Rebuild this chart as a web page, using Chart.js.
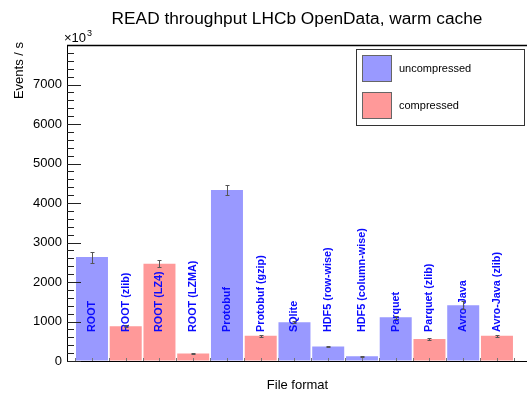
<!DOCTYPE html>
<html><head><meta charset="utf-8">
<script src="https://cdn.jsdelivr.net/npm/chart.js@4/dist/chart.umd.min.js"></script>
<style>html,body{margin:0;padding:0;background:#fff;overflow:hidden}
#wrap{position:relative;width:527px;height:396px}</style>
</head><body><div id="wrap"><canvas id="c" width="527" height="396"></canvas></div>
<script>
// ---- data (values in units of 10^3 events / s) ----
const categories = ["ROOT","ROOT (zlib)","ROOT (LZ4)","ROOT (LZMA)","Protobuf","Protobuf (gzip)","SQlite","HDF5 (row-wise)","HDF5 (column-wise)","Parquet","Parquet (zlib)","Avro-Java","Avro-Java (zlib)"];
const compressed = [false,true,true,true,false,true,false,false,false,false,true,false,true];
const throughput = [2630, 880, 2460, 190, 4330, 640, 980, 370, 120, 1110, 560, 1410, 640];
const errors     = [140, 20, 90, 15, 115, 20, 25, 15, 10, 40, 20, 100, 20];
const yTicks = [0,1000,2000,3000,4000,5000,6000,7000];
const seriesNames = ["uncompressed","compressed"];
const titleText = "READ throughput LHCb OpenData, warm cache";
const yTitle = "Events / s";
const xTitle = "File format";

const BLUE = "#9999ff", RED = "#ff9999";
const FONT = '"Liberation Sans", Arial, Helvetica, sans-serif';

function seriesData(flag){
  const out = [];
  categories.forEach((c,i)=>{ if(compressed[i]===flag) out.push({x:i, y:throughput[i]}); });
  return out;
}

const deco = {
  id:'deco',
  afterDatasetsDraw(chart){
    const {ctx, chartArea:a, scales:{x,y}} = chart;
    ctx.save();
    // x axis small ticks
    ctx.strokeStyle = '#777'; ctx.lineWidth = 1;
    ctx.beginPath();
    for(let i=0;i<categories.length;i++){
      for(const d of [-0.5,0]){
        const px = Math.round(x.getPixelForValue(i+d))+0.5;
        ctx.moveTo(px,a.bottom); ctx.lineTo(px,a.bottom-3);
      }
    }
    const pe = Math.round(x.getPixelForValue(categories.length-0.5))+0.5;
    ctx.moveTo(pe,a.bottom); ctx.lineTo(pe,a.bottom-3);
    ctx.stroke();
    // y axis inward ticks
    ctx.strokeStyle = '#222';
    ctx.beginPath();
    for(let v=0; v<=8000; v+=200){
      const py = Math.round(y.getPixelForValue(v))+0.5;
      const len = (v%1000===0)?14:7;
      ctx.moveTo(a.left,py); ctx.lineTo(a.left+len,py);
    }
    ctx.stroke();
    // top frame
    ctx.strokeStyle='#000'; ctx.lineWidth=1.5;
    ctx.beginPath(); ctx.moveTo(a.left,a.top+0.5); ctx.lineTo(a.right,a.top+0.5); ctx.stroke();
    // bar labels
    ctx.fillStyle = '#0a0aff';
    ctx.font = 'bold 10.8px ' + FONT;
    categories.forEach((c,i)=>{
      const px = x.getPixelForValue(i);
      ctx.save(); ctx.translate(px, a.bottom-29); ctx.rotate(-Math.PI/2);
      ctx.textAlign='left'; ctx.textBaseline='middle'; ctx.fillText(c,0,0); ctx.restore();
    });
    // error bars
    ctx.strokeStyle = '#555'; ctx.lineWidth = 1;
    throughput.forEach((v,i)=>{
      const px = Math.round(x.getPixelForValue(i))+0.5;
      const y1 = Math.round(y.getPixelForValue(v+errors[i]))+0.5;
      const y2 = Math.round(y.getPixelForValue(v-errors[i]))+0.5;
      ctx.beginPath();
      ctx.moveTo(px,y1); ctx.lineTo(px,y2);
      ctx.moveTo(px-2,y1); ctx.lineTo(px+2,y1);
      ctx.moveTo(px-2,y2); ctx.lineTo(px+2,y2);
      ctx.stroke();
    });
    // legend
    ctx.fillStyle='#fff'; ctx.fillRect(356.5,49.5,168,76);
    ctx.strokeStyle='#333'; ctx.lineWidth=1; ctx.strokeRect(356.5,49.5,168,76);
    const cols=[BLUE,RED];
    seriesNames.forEach((n,k)=>{
      const top = 55.5 + k*37;
      ctx.fillStyle=cols[k]; ctx.fillRect(362.5,top,29,26);
      ctx.strokeStyle='#666'; ctx.strokeRect(362.5,top,29,26);
      ctx.fillStyle='#000'; ctx.font='11px '+FONT; ctx.textAlign='left'; ctx.textBaseline='middle';
      ctx.fillText(n,399,top+13);
    });
    // titles
    ctx.fillStyle='#000';
    ctx.font='17.3px '+FONT; ctx.textAlign='center'; ctx.textBaseline='alphabetic';
    ctx.fillText(titleText,297,24);
    ctx.font='13px '+FONT; ctx.textAlign='left';
    ctx.fillText('\u00d710',64,42);
    ctx.font='9px '+FONT; ctx.fillText('3',87,36);
    ctx.font='13px '+FONT; ctx.textAlign='center';
    ctx.fillText(xTitle,297.5,389);
    ctx.save(); ctx.translate(23,42); ctx.rotate(-Math.PI/2);
    ctx.textAlign='right'; ctx.fillText(yTitle,0,0); ctx.restore();
    ctx.restore();
  }
};

new Chart(document.getElementById('c'),{
  type:'bar',
  data:{datasets:[
    {label:seriesNames[0], data:seriesData(false), backgroundColor:BLUE, borderWidth:0, grouped:false, barPercentage:0.948, categoryPercentage:1},
    {label:seriesNames[1], data:seriesData(true), backgroundColor:RED, borderWidth:0, grouped:false, barPercentage:0.948, categoryPercentage:1}
  ]},
  options:{
    responsive:false, animation:false, events:[],
    layout:{padding:{top:45,left:0,right:0,bottom:0}},
    plugins:{legend:{display:false},title:{display:false},tooltip:{enabled:false}},
    scales:{
      x:{type:'linear', min:-0.74, max:12.89, offset:false,
         grid:{display:false, drawTicks:false}, border:{display:true,color:'#000',width:1},
         ticks:{display:false}, afterFit(s){ s.height = 35; }},
      y:{min:0, max:8000,
         afterBuildTicks(s){ s.ticks = yTicks.map(v=>({value:v})); },
         ticks:{font:{family:FONT,size:13}, color:'#000', padding:5, callback:(v)=>String(v)},
         grid:{drawOnChartArea:false, drawTicks:false},
         border:{display:true,color:'#000',width:1},
         afterFit(s){ s.width = 67; }}
    }
  },
  plugins:[deco]
});
</script></body></html>
